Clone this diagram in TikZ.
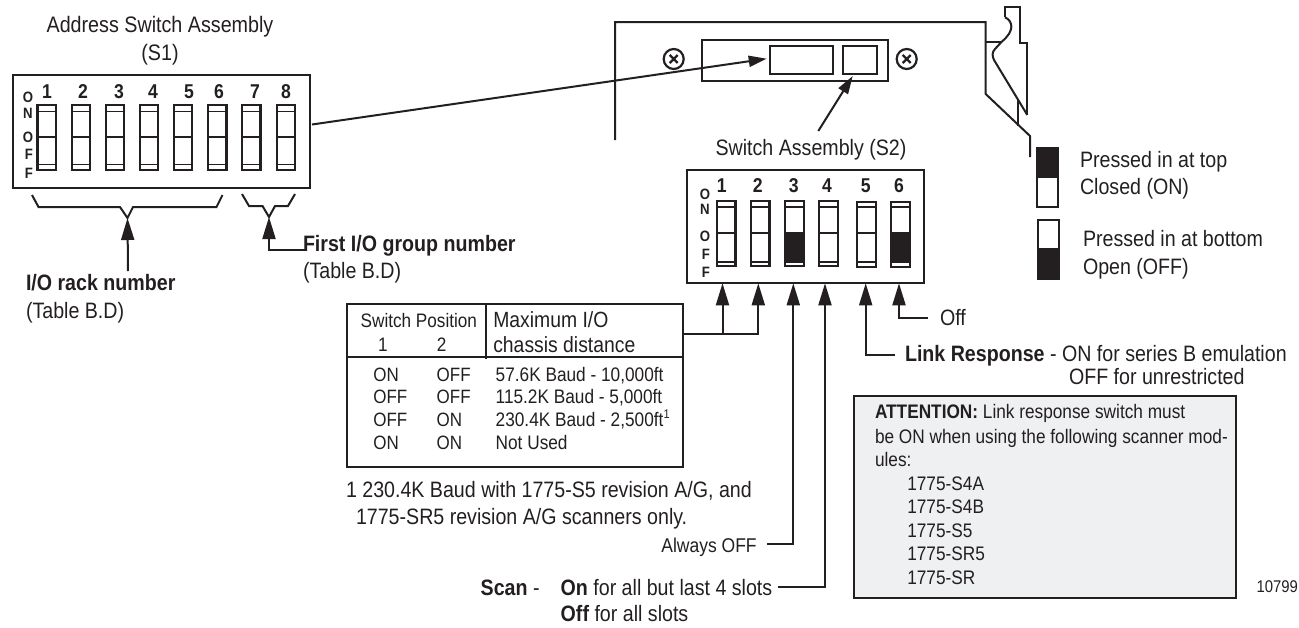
\documentclass[tikz,border=0pt]{standalone}
\usepackage{fontspec}
\setmainfont[FakeStretch=0.88]{Liberation Sans}
\usetikzlibrary{arrows.meta,calc}
\definecolor{ink}{HTML}{231F20}
\definecolor{attn}{HTML}{EFF0F1}
\tikzset{
  ln/.style={draw=ink,line width=2pt,line join=miter},
  thin ln/.style={draw=ink,line width=1.7pt},
  side ln/.style={draw=ink,line width=2.4pt},
  arr/.style={ln,-{Triangle[length=22pt,width=13pt,fill=ink]}},
  longarr/.style={ln,-{Triangle[length=18pt,width=11pt,fill=ink]}},
  lab/.style={inner sep=0pt,outer sep=0pt,text=ink},
  boxn/.style={draw=ink,line width=2.2pt,inner sep=0pt,outer sep=0pt},
}
\newcommand\lab[6]{% name x y size anchor text (y is mid-cap height)
  \pgfmathsetmacro\laby{#3+0.358*#4}
  \node[lab,anchor=#5] (#1) at (#2,\laby) {\fontsize{#4}{#4}\selectfont #6};}
\newcommand\bx[6][]{% opts name x1 y1 x2 y2
  \pgfmathsetmacro\bxw{#5-#3}\pgfmathsetmacro\bxh{#6-#4}
  \pgfmathsetmacro\bxx{(#3+#5)/2}\pgfmathsetmacro\bxy{(#4+#6)/2}
  \node[boxn,minimum width=\bxw pt,minimum height=\bxh pt,#1] (#2) at (\bxx,\bxy) {};}
\newcommand\slide[7]{% x1 x2 y1 ya yb yc y2
  \draw[thin ln] (#1,#4) -- (#2,#4) (#1,#5) -- (#2,#5) (#1,#6) -- (#2,#6);
  \draw[side ln] (#1,#3) rectangle (#2,#7);}
\begin{document}
\begin{tikzpicture}[x=1pt,y=-1pt]
\useasboundingbox (0,0) rectangle (1299,627);
% ---- S1
\lab{t1}{160}{24}{22.4}{base}{Address Switch Assembly}
\lab{t2}{160}{52.5}{22.4}{base}{(S1)}
\bx{S1}{12.7}{75}{310}{187.7}
\foreach \a/\b in {37.5/56,72/90,106/124,140/158,174/192,208/226.5,242/260.5,277/295}{
  \slide{\a}{\b}{105}{111.5}{137}{164.5}{170}}
\foreach \n/\x in {1/47,2/83,3/119,4/153,5/189,6/219,7/255,8/286}{
  \lab{sa\n}{\x}{91}{20}{base}{\bfseries\n}}
\lab{a1}{28}{97}{15}{base}{\bfseries O}
\lab{a2}{28}{113}{15}{base}{\bfseries N}
\lab{a3}{28}{137}{15}{base}{\bfseries O}
\lab{a4}{29}{154}{15}{base}{\bfseries F}
\lab{a5}{29}{173}{15}{base}{\bfseries F}
% braces
\coordinate (b1) at (127.5,218);
\coordinate (b1s) at (128,271);
\coordinate (b2) at (269,217);
\coordinate (b2c) at (269,249.5);
\draw[ln] (32,195) -- (38.5,207) -- (120,207) -- (b1) -- (133,207) -- (216.5,207) -- (222.5,195);
\draw[ln] (242,194) -- (249,206) -- (262.5,206) -- (b2) -- (275,206) -- (288,206) -- (295,194);
\lab{rk1}{26}{283}{22.3}{base west}{\bfseries I/O rack number}
\lab{rk2}{26}{311}{22.3}{base west}{(Table B.D)}
\lab{fg1}{303}{244}{22.3}{base west}{\bfseries First I/O group number}
\lab{fg2}{303}{271}{22.3}{base west}{(Table B.D)}
\draw[arr] (fg1.base west |- b2c) ++(3,0) -- (b2c) -- (b2);
\draw[arr] (b1s) -- (b1);
% ---- panel
\draw[ln] (615,140) -- (615,22) -- (985.7,22) -- (985.7,94) -- (1030,136) -- (1030,157);
\draw[ln] (985.7,41.7) -- (1001.7,41.7);
\draw[ln] (1005,17.3) -- (1005,6.7) -- (1020,6.7) -- (1020,42.7) -- (1027.3,42.7) -- (1027.3,115);
\draw[ln] (1005,17.3) .. controls (1013,21) and (1015,31) .. (1001.7,41.7) -- (995,49) .. controls (992,52) and (992,56) .. (994,60) -- (1027.3,115);
\draw[ln] (1017.7,100) -- (1017.7,126);
\bx{plate}{701.7}{40}{888.3}{80.7}
\bx{R1}{770}{46}{833.3}{74}
\bx{R2}{842.7}{46}{876.7}{74}
\foreach \nm/\x in {sc1/673.7,sc2/906.7}{
  \node[boxn,circle,minimum size=20pt] (\nm) at (\x,59) {};
  \draw[line width=2.2pt,draw=ink] ($(\nm.center)+(-4,-4)$) -- ($(\nm.center)+(4,4)$) ($(\nm.center)+(-4,4)$) -- ($(\nm.center)+(4,-4)$);}
\coordinate (s1out) at (312,124.5);
\coordinate (r1in) at (766.7,58.7);
\draw[longarr] (s1out) -- (r1in);
\coordinate (s2up) at (818.3,131);
\coordinate (r2in) at (852.7,76);
\draw[longarr] (s2up) -- (r2in);
% ---- S2
\lab{t3}{811}{148}{22.3}{base}{Switch Assembly (S2)}
\bx{S2}{686.7}{170}{924.3}{282.7}
\fill[ink] (785,232.7) rectangle (803.7,261.7);
\fill[ink] (891,232.7) rectangle (909.7,261.7);
\foreach \a/\b/\d in {716.7/735.3/0,750.7/769.3/0,785/803.7/0,819/837.7/0,857/875.7/0.7,891/909.7/0.7}{
  \pgfmathsetmacro\yt{201+\d}\pgfmathsetmacro\yb{266+\d}
  \slide{\a}{\b}{\yt}{206.7}{232.7}{261.7}{\yb}}
\foreach \n/\x in {1/721.7,2/757.7,3/793.7,4/827,5/865.7,6/899}{
  \lab{sb\n}{\x}{185.7}{20}{base}{\bfseries\n}}
\lab{c1}{705}{194}{15}{base}{\bfseries O}
\lab{c2}{705}{209}{15}{base}{\bfseries N}
\lab{c3}{705}{236}{15}{base}{\bfseries O}
\lab{c4}{706}{254}{15}{base}{\bfseries F}
\lab{c5}{706}{271.7}{15}{base}{\bfseries F}
% ---- table
\bx{tbl}{346.7}{304}{682.7}{467.3}
\coordinate (hl) at (346.7,357.3); \coordinate (hr) at (682.7,357.3);
\coordinate (vt) at (486,304); \coordinate (vb) at (486,359);
\draw[ln] (hl) -- (hr); \draw[ln] (vt) -- (vb);
\lab{h1}{360.7}{320.7}{19.5}{base west}{Switch Position}
\lab{h2}{383}{345}{19.5}{base}{1}
\lab{h3}{441.7}{345}{19.5}{base}{2}
\lab{h4}{493.3}{319.3}{22}{base west}{Maximum I/O}
\lab{h5}{493.3}{345}{22}{base west}{chassis distance}
\foreach \i/\y/\p/\q/\r in {1/374.3/ON/OFF/{57.6K Baud - 10,000ft},2/396.7/OFF/OFF/{115.2K Baud - 5,000ft},3/419.3/OFF/ON/{230.4K Baud - 2,500ft\raisebox{.42em}{\fontsize{12.5}{12.5}\selectfont 1}},4/442.7/ON/ON/{Not Used}}{
  \lab{p\i}{373.3}{\y}{19.3}{base west}{\p}
  \lab{q\i}{436.7}{\y}{19.3}{base west}{\q}
  \lab{r\i}{495.7}{\y}{19.6}{base west}{\r}}
\lab{fn1}{346}{490}{22.3}{base west}{1 230.4K Baud with 1775-S5 revision A/G, and}
\lab{fn2}{356}{517}{22.3}{base west}{1775-SR5 revision A/G scanners only.}
% ---- S2 arrows
\coordinate (u1) at (722.5,283.3); \coordinate (u2) at (758.3,283.3);
\coordinate (u3) at (793.3,283.3); \coordinate (u4) at (825,283.3);
\coordinate (u5) at (865.7,283.3); \coordinate (u6) at (899,283.3);
\coordinate (tblout) at (682.7,333.7);
\coordinate (j1) at (722.5,333.7); \coordinate (j2) at (758.3,333.7);
\draw[arr] (tblout) -- (j2) -- (u2);
\draw[arr] (j1) -- (u1);
\lab{off}{940}{318}{22.3}{base west}{Off}
\coordinate (offend) at (928,318.3);
\draw[arr] (offend) -- (899,318.3) -- (u6);
\lab{lr1}{905}{354}{22.3}{base west}{\textbf{Link Response} - ON for series B emulation}
\lab{lr2}{1069}{377}{22.3}{base west}{OFF for unrestricted}
\coordinate (lrend) at (895,355);
\draw[arr] (lrend) -- (865.7,355) -- (u5);
\lab{al}{756.7}{545}{19.9}{base east}{Always OFF}
\coordinate (alend) at (767,544.3);
\draw[arr] (alend) -- (793.3,544.3) -- (u3);
\lab{sc}{480.7}{587.7}{22.3}{base west}{\textbf{Scan} -}
\lab{on}{560.7}{587.7}{22.3}{base west}{\textbf{On} for all but last 4 slots}
\lab{of}{560.7}{614}{22.3}{base west}{\textbf{Off} for all slots}
\coordinate (scend) at (778,587.3);
\draw[arr] (scend) -- (825,587.3) -- (u4);
% ---- attention
\bx[fill=attn]{att}{854}{395.7}{1236}{597.7}
\lab{at1}{875}{411.7}{19.6}{base west}{\textbf{ATTENTION:} Link response switch must}
\lab{at2}{875}{436.7}{19.6}{base west}{be ON when using the following scanner mod-}
\lab{at3}{875}{459.3}{19.6}{base west}{ules:}
\foreach \i/\y/\t in {4/483/1775-S4A,5/506.7/1775-S4B,6/530/1775-S5,7/553.3/1775-SR5,8/577.3/1775-SR}{
  \lab{at\i}{907.3}{\y}{19.6}{base west}{\t}}
\lab{num}{1298}{586.7}{16.9}{base east}{10799}
% ---- legend
\bx{lg1}{1037.3}{148.3}{1058.3}{207.3}
\bx{lg2}{1038}{220}{1058.7}{279.3}
\fill[ink] (lg1.north west) rectangle (1058.3,178.3);
\fill[ink] (1038,248.3) rectangle (lg2.south east);
\lab{l1}{1080}{160}{22.3}{base west}{Pressed in at top}
\lab{l2}{1080}{187}{22.3}{base west}{Closed (ON)}
\lab{l3}{1083}{239}{22.3}{base west}{Pressed in at bottom}
\lab{l4}{1083}{266.7}{22.3}{base west}{Open (OFF)}
\end{tikzpicture}
\end{document}
